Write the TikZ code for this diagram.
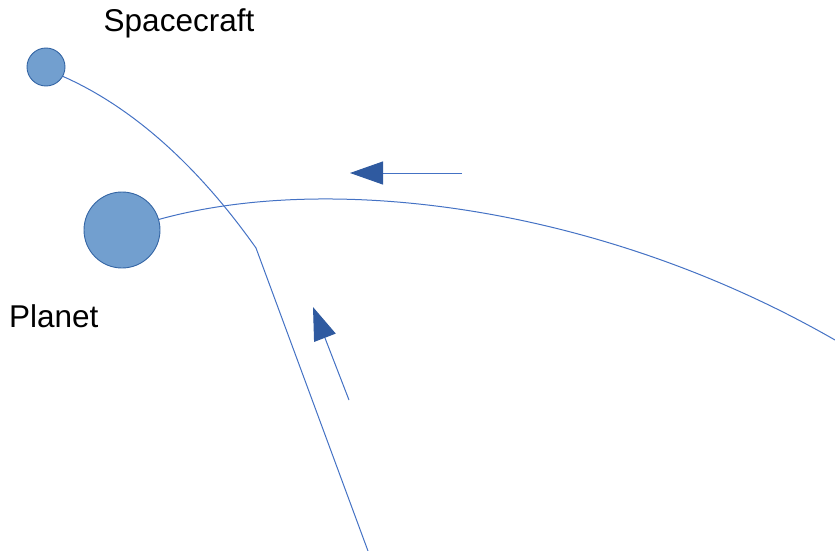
\documentclass[tikz,border=0pt]{standalone}
\usepackage{fontspec}
\setmainfont{Liberation Sans}
\usetikzlibrary{arrows.meta}
\definecolor{linec}{RGB}{68,114,196}
\definecolor{fillc}{RGB}{114,159,207}
\definecolor{borderc}{RGB}{52,101,164}
\definecolor{headc}{RGB}{47,90,160}
\begin{document}
\begin{tikzpicture}[x=1pt,y=-1pt,
  body/.style={circle,draw=borderc,fill=fillc,line width=0.9pt,inner sep=0pt},
  path/.style={draw=linec,line width=1pt},
  motion/.style={draw=linec,line width=1pt,-{Triangle[length=33pt,width=23pt,fill=headc,color=headc]}},
  lab/.style={font=\fontsize{31.5}{36}\selectfont,inner sep=0pt}]
\useasboundingbox (0,0) rectangle (835,551);
\node[body,minimum size=38pt] (sc) at (46,67) {};
\node[body,minimum size=76pt] (pl) at (122,230) {};
\node[lab] (sclab) at (179,23) {Spacecraft};
\node[lab,anchor=west] (pllab) at (9,316) {Planet};
\coordinate (kink) at (256,248);
\coordinate (scend) at (368,551);
\coordinate (plend) at (835,340);
\draw[path] (sc.-29) .. controls (150,115) and (215,190) .. (kink) -- (scend);
\draw[path] (pl.16) .. controls (330,172) and (600,205) .. (plend);
\coordinate (a1s) at (462,173);
\coordinate (a1e) at (350,173);
\coordinate (a2s) at (349,400);
\coordinate (a2e) at (313,307);
\draw[motion] (a1s) -- (a1e);
\draw[motion] (a2s) -- (a2e);
\end{tikzpicture}
\end{document}
